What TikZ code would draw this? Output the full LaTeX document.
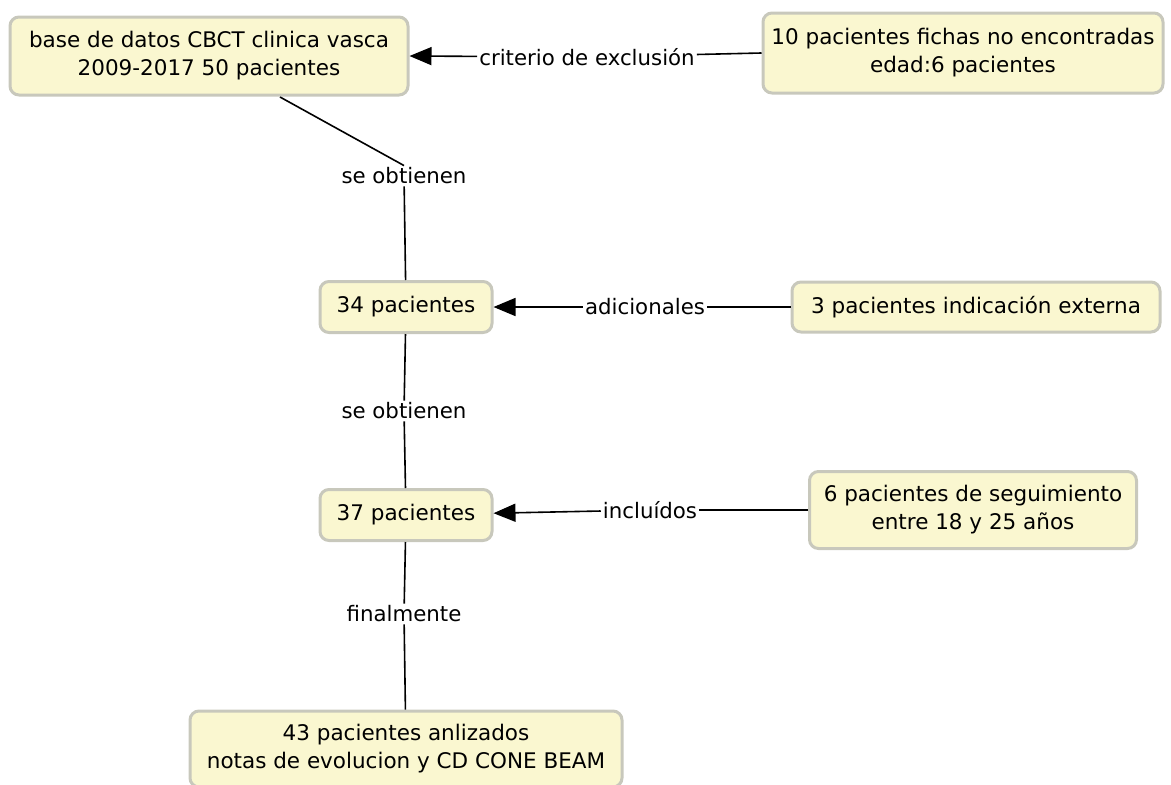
\documentclass[tikz,border=0pt]{standalone}
\usepackage{fontspec}
\setmainfont{DejaVu Sans}
\usetikzlibrary{arrows.meta}
\definecolor{boxfill}{RGB}{250,247,208}
\definecolor{boxline}{RGB}{200,200,188}
\begin{document}
\begin{tikzpicture}[x=1pt,y=-1pt,
  box/.style={draw=boxline,fill=boxfill,line width=3pt,rounded corners=9pt,align=center,font=\fontsize{21.5}{28}\selectfont,inner sep=0pt},
  lbl/.style={fill=white,inner sep=2pt,font=\fontsize{21.3}{26}\selectfont},
  conn/.style={line width=1.6pt,black},
  arr/.style={conn,-{Triangle[length=22pt,width=18pt]}}]
\useasboundingbox (0,0) rectangle (1171,785);
\node[box,minimum width=398pt,minimum height=78pt] (base) at (209,56) {base de datos CBCT clinica vasca\\2009-2017 50 pacientes};
\node[box,minimum width=400pt,minimum height=80pt] (exc) at (963,53) {10 pacientes fichas no encontradas\\edad:6 pacientes};
\node[box,minimum width=172pt,minimum height=51pt] (p34) at (406,307) {34 pacientes};
\node[box,minimum width=368pt,minimum height=50pt] (ext) at (976,307) {3 pacientes indicación externa};
\node[box,minimum width=172pt,minimum height=51pt] (p37) at (406,515) {37 pacientes};
\node[box,minimum width=327pt,minimum height=77pt] (seg) at (973,510) {6 pacientes de seguimiento\\entre 18 y 25 años};
\node[box,minimum width=432pt,minimum height=76pt] (p43) at (406,749) {43 pacientes anlizados\\notas de evolucion y CD CONE BEAM};
\node[lbl] (l1) at (587,57) {criterio de exclusión};
\node[lbl] (l2) at (404,176) {se obtienen};
\node[lbl] (l3) at (645,307) {adicionales};
\node[lbl] (l4) at (404,411) {se obtienen};
\node[lbl] (l5) at (650,510) {incluídos};
\node[lbl] (l6) at (404,614) {finalmente};
\coordinate (b1) at (280,97);
\draw[conn] (exc.west) -- (l1);
\draw[arr] (l1) -- (base.east);
\draw[conn] (b1) -- (l2.north);
\draw[conn] (l2) -- (p34);
\draw[conn] (ext) -- (l3);
\draw[arr] (l3) -- (p34);
\draw[conn] (p34) -- (l4);
\draw[conn] (l4) -- (p37);
\draw[conn] (seg) -- (l5);
\draw[arr] (l5) -- (p37);
\draw[conn] (p37) -- (l6);
\draw[conn] (l6) -- (p43);
\end{tikzpicture}
\end{document}
